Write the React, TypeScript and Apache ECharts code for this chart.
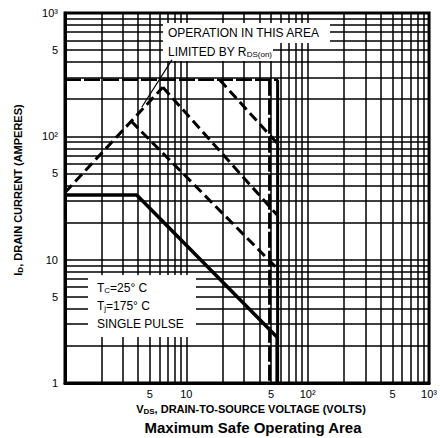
import React, { useEffect, useRef } from "react";
import * as echarts from "echarts";

// ---- data (volts, amperes) ----
const gridDecades = [1, 10, 100];
const gridSteps = [1, 2, 3, 4, 5, 6, 7, 8, 9];

const xTickValues = [5, 10, 50, 100, 500, 1000];
const xTickLabels = ["5", "10", "5", "10²", "5", "10³"];
const yTickValues = [1, 5, 10, 50, 100, 500, 1000];
const yTickLabels = ["1", "5", "10", "5", "10²", "5", "10³"];

// DC (solid) curve
const dcV = [1, 3.9, 56, 56];
const dcI = [33.5, 33.5, 2.35, 1];
// R_DS(on) limit (dashed, rising)
const rdsV = [1, 6.4];
const rdsI = [35, 250];
// pulse limit lines (dashed, falling)
const pulse1V = [18.8, 56];
const pulse1I = [287, 88];
const pulse2V = [6.4, 56];
const pulse2I = [250, 23];
const pulse3V = [3.5, 56];
const pulse3I = [133, 8.5];
// peak current limit (horizontal)
const peakV = [1, 57];
const peakI = [287, 287];
// voltage limits (vertical)
const bvV = [56.5, 56.5];
const bvI = [287, 1];
const bv2V = [48.5, 48.5];
const bv2I = [287, 1];
// annotation leader line
const leaderV = [4.3, 7.6];
const leaderI = [173, 417];

const L = (v: number) => Math.log10(v);
const pts = (vs: number[], is: number[]) => vs.map((v, k) => [L(v), L(is[k])]);

const FONT = "Liberation Sans, Arial, Helvetica, sans-serif";

export default function App() {
  const ref = useRef<HTMLDivElement>(null);
  useEffect(() => {
    if (!ref.current) return;
    const chart = echarts.init(ref.current, null, { renderer: "svg" });
    const gridVals: number[] = [];
    gridDecades.forEach((d) => gridSteps.forEach((s) => gridVals.push(L(d * s))));
    gridVals.push(3);

    const lineSeries = (data: number[][], width: number, type: any, name: string) => ({
      type: "line",
      name,
      data,
      symbol: "none",
      silent: true,
      z: 2,
      lineStyle: { color: "#000", width, type, cap: "butt" },
    });

    const fmt = (vals: number[], labels: string[]) => (v: number) => {
      for (let k = 0; k < vals.length; k++) if (Math.abs(L(vals[k]) - v) < 1e-6) return labels[k];
      return "";
    };

    chart.setOption({
      animation: false,
      backgroundColor: "#fff",
      grid: {
        left: 65,
        right: 10,
        top: 13,
        bottom: 55,
        show: true,
        borderColor: "#000",
        borderWidth: 3,
      },
      xAxis: {
        type: "value",
        min: 0,
        max: 3,
        axisLine: { show: true, lineStyle: { color: "#000", width: 3 } },
        axisTick: { show: false, customValues: gridVals },
        splitLine: { show: true, lineStyle: { color: "#000", width: 1.5 } },
        axisLabel: {
          customValues: xTickValues.map(L),
          formatter: fmt(xTickValues, xTickLabels),
          color: "#000",
          fontFamily: FONT,
          fontSize: 11,
          margin: 5,
        },
      },
      yAxis: {
        type: "value",
        min: 0,
        max: 3,
        axisLine: { show: true, lineStyle: { color: "#000", width: 3 } },
        axisTick: { show: false, customValues: gridVals },
        splitLine: { show: true, lineStyle: { color: "#000", width: 1.5 } },
        axisLabel: {
          customValues: yTickValues.map(L),
          formatter: fmt(yTickValues, yTickLabels),
          color: "#000",
          fontFamily: FONT,
          fontSize: 11,
          margin: 7,
        },
      },
      series: [
        lineSeries(pts(peakV, peakI), 2.5, [16, 3], "Peak current"),
        lineSeries(pts(bv2V, bv2I), 3, [16, 3], "Voltage limit 2"),
        lineSeries(pts(bvV, bvI), 3, "solid", "Voltage limit"),
        lineSeries(pts(rdsV, rdsI), 3, [10, 5], "RDS(on) limit"),
        lineSeries(pts(pulse1V, pulse1I), 3, [10, 5], "Pulse 1"),
        lineSeries(pts(pulse2V, pulse2I), 3, [10, 5], "Pulse 2"),
        lineSeries(pts(pulse3V, pulse3I), 3, [10, 5], "Pulse 3"),
        lineSeries(pts(dcV, dcI), 3.5, "solid", "DC"),
        lineSeries(pts(leaderV, leaderI), 1.2, "solid", "Leader"),
      ],
      graphic: [
        { type: "rect", z: 1, shape: { x: 163, y: 23, width: 167, height: 20 }, style: { fill: "#fff" } },
        { type: "rect", z: 1, shape: { x: 163, y: 43, width: 110, height: 18 }, style: { fill: "#fff" } },
        { type: "rect", z: 1, shape: { x: 88, y: 275, width: 108, height: 62 }, style: { fill: "#fff" } },
        {
          type: "text", z: 5, x: 168, y: 33,
          style: { text: "OPERATION IN THIS AREA", font: `12px ${FONT}`, fill: "#000", verticalAlign: "middle" },
        },
        {
          type: "text", z: 5, x: 168, y: 52,
          style: {
            text: "{a|LIMITED BY R}{s|DS(on)}",
            verticalAlign: "middle",
            rich: {
              a: { fontFamily: FONT, fontSize: 12, fill: "#000", color: "#000" },
              s: { fontFamily: FONT, fontSize: 8, fill: "#000", color: "#000", padding: [5, 0, 0, 0] },
            },
          },
        },
        {
          type: "text", z: 5, x: 97, y: 288,
          style: {
            text: "{a|T}{s|C}{a|=25° C}",
            verticalAlign: "middle",
            rich: {
              a: { fontFamily: FONT, fontSize: 12, fill: "#000", color: "#000" },
              s: { fontFamily: FONT, fontSize: 8, fill: "#000", color: "#000", padding: [5, 0, 0, 0] },
            },
          },
        },
        {
          type: "text", z: 5, x: 97, y: 306,
          style: {
            text: "{a|T}{s|j}{a|=175° C}",
            verticalAlign: "middle",
            rich: {
              a: { fontFamily: FONT, fontSize: 12, fill: "#000", color: "#000" },
              s: { fontFamily: FONT, fontSize: 8, fill: "#000", color: "#000", padding: [5, 0, 0, 0] },
            },
          },
        },
        {
          type: "text", z: 5, x: 97, y: 324,
          style: { text: "SINGLE PULSE", font: `12px ${FONT}`, fill: "#000", verticalAlign: "middle" },
        },
        {
          type: "text", z: 5, x: 18, y: 190, rotation: Math.PI / 2,
          style: {
            text: "{a|I}{s|D}{a|, DRAIN CURRENT (AMPERES)}",
            align: "center",
            verticalAlign: "middle",
            rich: {
              a: { fontFamily: FONT, fontSize: 11, fontWeight: "bold", fill: "#000", color: "#000" },
              s: { fontFamily: FONT, fontSize: 8, fontWeight: "bold", fill: "#000", color: "#000", padding: [4, 0, 0, 0] },
            },
          },
        },
        {
          type: "text", z: 5, x: 251, y: 409,
          style: {
            text: "{a|V}{s|DS}{a|, DRAIN-TO-SOURCE VOLTAGE (VOLTS)}",
            align: "center",
            verticalAlign: "middle",
            rich: {
              a: { fontFamily: FONT, fontSize: 11, fontWeight: "bold", fill: "#000", color: "#000" },
              s: { fontFamily: FONT, fontSize: 8, fontWeight: "bold", fill: "#000", color: "#000", padding: [4, 0, 0, 0] },
            },
          },
        },
        {
          type: "text", z: 5, x: 253, y: 427,
          style: {
            text: "Maximum Safe Operating Area",
            font: `bold 15px ${FONT}`,
            fill: "#000",
            align: "center",
            verticalAlign: "middle",
          },
        },
      ],
    });
    return () => chart.dispose();
  }, []);
  return <div ref={ref} style={{ width: 440, height: 438, position: "absolute", left: 0, top: 0 }} />;
}
